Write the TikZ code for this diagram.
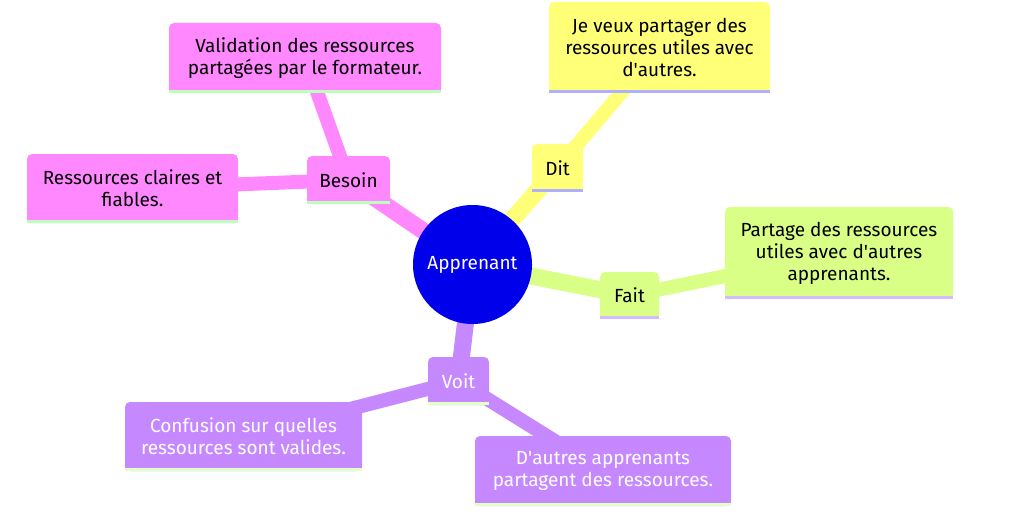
\documentclass[tikz,border=0pt]{standalone}
\usepackage{fontspec}
\setmainfont{Fira Sans}
\usetikzlibrary{backgrounds}
\definecolor{rootblue}{RGB}{0,0,235}
\definecolor{pinkbox}{RGB}{255,136,255}
\definecolor{yellowbox}{RGB}{255,255,120}
\definecolor{greenbox}{RGB}{217,255,134}
\definecolor{purplebox}{RGB}{198,136,255}
\definecolor{pinkline}{RGB}{188,255,188}
\definecolor{yellowline}{RGB}{176,176,255}
\definecolor{greenline}{RGB}{212,186,255}
\definecolor{purpleline}{RGB}{226,255,200}
\begin{document}
\begin{tikzpicture}[x=1pt, y=-1pt,
    every node/.style={font=\fontsize{19}{22}\selectfont, align=center, inner sep=0pt},
    box/.style args={#1/#2/#3}{fill=#1, rounded corners=5pt, minimum width=#2pt, minimum height=#3pt},
    edge/.style={draw=#1, line cap=butt}]
    \useasboundingbox (0,0) rectangle (1030,524);
    % centre
    \node[circle, fill=rootblue, minimum size=119pt, text=white] (root) at (472.5,264.5) {Apprenant};
    % branches
    \node[box=pinkbox/83/48] (besoin) at (348.5,180) {Besoin};
    \node[box=pinkbox/272/70] (valid) at (305,58) {Validation des ressources\\partagées par le formateur.};
    \node[box=pinkbox/211/69] (claires) at (132.5,188.5) {Ressources claires et\\fiables.};
    \node[box=yellowbox/51/48] (dit) at (557.5,168) {Dit};
    \node[box=yellowbox/221/91] (partager) at (659.5,47.5) {Je veux partager des\\ressources utiles avec\\d\textquotesingle autres.};
    \node[box=greenbox/59/47] (fait) at (629.5,295.5) {Fait};
    \node[box=greenbox/228/92] (partage) at (839,253) {Partage des ressources\\utiles avec d\textquotesingle autres\\apprenants.};
    \node[box=purplebox/61/48, text=white] (voit) at (458.5,381) {Voit};
    \node[box=purplebox/237/69, text=white] (confusion) at (243.5,436.5) {Confusion sur quelles\\ressources sont valides.};
    \node[box=purplebox/256/70, text=white] (dautres) at (603,471) {D\textquotesingle autres apprenants\\partagent des ressources.};
    % bottom strips
    \foreach \n/\c/\s in {besoin/pinkbox/pinkline, valid/pinkbox/pinkline, claires/pinkbox/pinkline,
                          dit/yellowbox/yellowline, partager/yellowbox/yellowline,
                          fait/greenbox/greenline, partage/greenbox/greenline,
                          voit/purplebox/purpleline, confusion/purplebox/purpleline, dautres/purplebox/purpleline}
    {
        \fill[\c] (\n.south west) rectangle ([yshift=7pt]\n.south east);
        \fill[\s] (\n.south west) rectangle ([yshift=3.5pt]\n.south east);
    }
    % connectors
    \begin{scope}[on background layer]
        \draw[edge=pinkbox, line width=17pt] (root.center) -- (besoin.center);
        \draw[edge=yellowbox, line width=17pt] (root.center) -- (dit.center);
        \draw[edge=greenbox, line width=17pt] (root.center) -- (fait.center);
        \draw[edge=purplebox, line width=17pt] (root.center) -- (voit.center);
        \draw[edge=pinkbox, line width=14pt] (besoin.center) -- (valid.center);
        \draw[edge=pinkbox, line width=14pt] (besoin.center) -- (claires.center);
        \draw[edge=yellowbox, line width=14pt] (dit.center) -- (partager.center);
        \draw[edge=greenbox, line width=14pt] (fait.center) -- (partage.center);
        \draw[edge=purplebox, line width=14pt] (voit.center) -- (confusion.center);
        \draw[edge=purplebox, line width=14pt] (voit.center) -- (dautres.center);
    \end{scope}
\end{tikzpicture}
\end{document}
